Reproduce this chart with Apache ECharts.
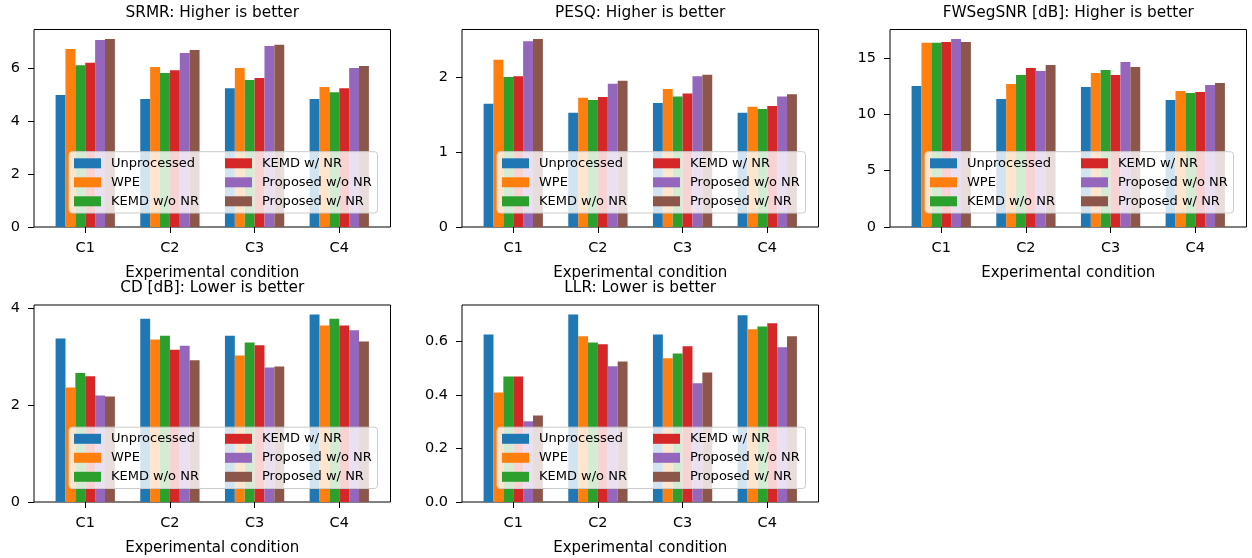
<!DOCTYPE html>
<html><head><meta charset="utf-8">
<script src="https://cdn.jsdelivr.net/npm/echarts@6/dist/echarts.min.js"></script>
<style>html,body{margin:0;padding:0;background:#fff}#c{width:1252px;height:558px}</style>
</head><body><div id="c"></div>
<script>
// ---------- data ----------
const categories = ['C1', 'C2', 'C3', 'C4'];
const methods = ['Unprocessed', 'WPE', 'KEMD w/o NR', 'KEMD w/ NR', 'Proposed w/o NR', 'Proposed w/ NR'];
const colors = ['#1f77b4', '#ff7f0e', '#2ca02c', '#d62728', '#9467bd', '#8c564b'];

// rows follow `methods`, columns follow `categories`
const srmr = [
  [4.98, 4.83, 5.24, 4.83],
  [6.72, 6.04, 6.00, 5.28],
  [6.11, 5.81, 5.55, 5.09],
  [6.20, 5.92, 5.62, 5.24],
  [7.06, 6.57, 6.83, 6.00],
  [7.10, 6.68, 6.88, 6.08]
];
const pesq = [
  [1.65, 1.53, 1.66, 1.53],
  [2.24, 1.73, 1.85, 1.61],
  [2.01, 1.70, 1.75, 1.58],
  [2.02, 1.74, 1.79, 1.62],
  [2.49, 1.92, 2.02, 1.75],
  [2.52, 1.96, 2.04, 1.78]
];
const fwsegsnr = [
  [12.51, 11.36, 12.42, 11.27],
  [16.34, 12.69, 13.67, 12.07],
  [16.34, 13.49, 13.93, 11.89],
  [16.42, 14.11, 13.49, 11.98],
  [16.69, 13.85, 14.65, 12.60],
  [16.42, 14.38, 14.20, 12.78]
];
const cd = [
  [3.38, 3.79, 3.44, 3.88],
  [2.37, 3.36, 3.03, 3.65],
  [2.67, 3.44, 3.30, 3.79],
  [2.60, 3.15, 3.24, 3.65],
  [2.20, 3.23, 2.78, 3.55],
  [2.18, 2.93, 2.80, 3.32]
];
const llr = [
  [0.627, 0.702, 0.627, 0.699],
  [0.410, 0.620, 0.538, 0.646],
  [0.470, 0.597, 0.556, 0.657],
  [0.470, 0.590, 0.583, 0.669],
  [0.302, 0.508, 0.444, 0.579],
  [0.324, 0.526, 0.485, 0.620]
];

const srmrTicks = [0, 2, 4, 6];
const srmrTickLabels = ['0', '2', '4', '6'];
const pesqTicks = [0, 1, 2];
const pesqTickLabels = ['0', '1', '2'];
const fwTicks = [0, 5, 10, 15];
const fwTickLabels = ['0', '5', '10', '15'];
const cdTicks = [0, 2, 4];
const cdTickLabels = ['0', '2', '4'];
const llrTicks = [0, 0.2, 0.4, 0.6];
const llrTickLabels = ['0.0', '0.2', '0.4', '0.6'];

const titles = ['SRMR: Higher is better', 'PESQ: Higher is better', 'FWSegSNR [dB]: Higher is better',
                'CD [dB]: Lower is better', 'LLR: Lower is better'];
const xLabel = 'Experimental condition';

// ---------- layout ----------
const FONT = 'DejaVu Sans';
const panels = [
  { data: srmr, ticks: srmrTicks, labels: srmrTickLabels },
  { data: pesq, ticks: pesqTicks, labels: pesqTickLabels },
  { data: fwsegsnr, ticks: fwTicks, labels: fwTickLabels },
  { data: cd, ticks: cdTicks, labels: cdTickLabels },
  { data: llr, ticks: llrTicks, labels: llrTickLabels }
];
const frameLeft = [34, 462, 890, 34, 462];
const frameTop = [29.5, 29.5, 29.5, 305, 305];
const frameH = [197.5, 197.5, 197.5, 197, 197];
const frameW = 356.5;
const inset = 8.9;
const titleTop = [3.8, 3.8, 3.8, 279.3, 279.3];

const grids = [], xAxes = [], yAxes = [], series = [], titleOpts = [], legends = [], graphics = [];

panels.forEach((p, i) => {
  const L = frameLeft[i], T = frameTop[i], H = frameH[i];
  grids[i] = { left: L + inset, top: T, width: frameW - 2 * inset, height: H };
  grids[5 + i] = { left: L, top: T, width: frameW, height: H, show: true,
                   borderColor: '#000', borderWidth: 1, backgroundColor: 'transparent' };
  const yMax = Math.max(...p.data.flat()) * 1.05;
  xAxes[i] = {
    gridIndex: i, type: 'category', data: categories, boundaryGap: true,
    axisLine: { show: false },
    axisTick: { show: true, alignWithLabel: true, inside: false, length: 6, lineStyle: { color: '#000', width: 1 } },
    axisLabel: { margin: 13, fontSize: 14.5, fontFamily: FONT, color: '#000', lineHeight: 16 },
    name: xLabel, nameLocation: 'middle', nameGap: 38,
    nameTextStyle: { fontSize: 15, fontFamily: FONT, color: '#000', lineHeight: 17 }
  };
  yAxes[i] = {
    gridIndex: i, type: 'value', min: 0, max: yMax, offset: inset,
    splitLine: { show: false },
    axisLine: { show: false },
    axisTick: { show: true, inside: false, length: 6, customValues: p.ticks, lineStyle: { color: '#000', width: 1 } },
    axisLabel: { margin: 14, fontSize: 14.5, fontFamily: FONT, color: '#000', customValues: p.ticks,
                 formatter: v => { const k = p.ticks.findIndex(t => Math.abs(t - v) < 1e-9); return k >= 0 ? p.labels[k] : ''; } }
  };
  xAxes[5 + i] = { gridIndex: 5 + i, type: 'value', show: false, min: 0, max: 1 };
  yAxes[5 + i] = { gridIndex: 5 + i, type: 'value', show: false, min: 0, max: 1 };

  methods.forEach((m, k) => {
    series.push({
      type: 'bar', name: m, xAxisIndex: i, yAxisIndex: i, data: p.data[k],
      barWidth: '11.67%', barGap: '0%', itemStyle: { color: colors[k] }, silent: true
    });
  });

  titleOpts.push({
    text: titles[i], left: L + frameW / 2, top: titleTop[i], textAlign: 'center', padding: 0,
    textStyle: { fontSize: 15.3, fontWeight: 'normal', color: '#000', fontFamily: FONT, lineHeight: 18 }
  });

  const boxL = L + 35, boxT = T + 122.2;
  graphics.push({
    type: 'rect', z: 3, silent: true,
    shape: { x: boxL, y: boxT, width: 308.5, height: 61.3, r: 3 },
    style: { fill: 'rgba(255,255,255,0.8)', stroke: '#cccccc', lineWidth: 1 }
  });
  const legendBase = {
    orient: 'vertical', itemGap: 4, itemWidth: 27, itemHeight: 10, icon: 'rect', padding: 0,
    selectedMode: false, z: 4,
    textStyle: { fontSize: 13, fontFamily: FONT, color: '#000', lineHeight: 15, padding: [0, 0, 0, 5] }
  };
  legends.push(Object.assign({}, legendBase, { left: boxL + 5, top: boxT + 4.1, data: methods.slice(0, 3) }));
  legends.push(Object.assign({}, legendBase, { left: boxL + 156, top: boxT + 4.1, data: methods.slice(3, 6) }));
});

const chart = echarts.init(document.getElementById('c'), null, { renderer: 'canvas' });
chart.setOption({
  animation: false,
  backgroundColor: '#fff',
  textStyle: { fontFamily: FONT },
  grid: grids, xAxis: xAxes, yAxis: yAxes, series: series,
  title: titleOpts, legend: legends, graphic: { elements: graphics }
});
</script>
</body></html>
